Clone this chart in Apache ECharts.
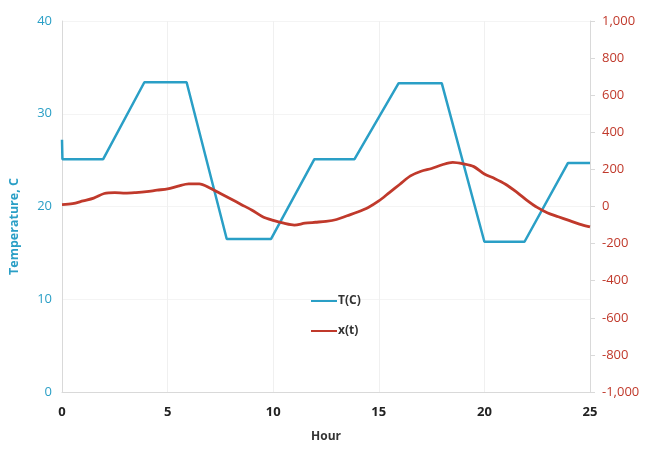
<!DOCTYPE html>
<html><head><meta charset="utf-8">
<script src="https://cdn.jsdelivr.net/npm/echarts@6/dist/echarts.min.js"></script>
<style>html,body{margin:0;padding:0;background:#fff}#c{width:649px;height:455px}</style>
</head><body><div id="c"></div>
<script>
const tHours = [0,0.02,1.95,3.9,5.9,7.8,9.9,11.95,13.85,15.94,17.98,20.0,21.9,23.96,25];
const tValues = [27.2,25.1,25.1,33.4,33.4,16.5,16.5,25.1,25.1,33.3,33.3,16.2,16.2,24.7,24.7];
const xHours = [0,0.5,1,1.5,2,2.5,3,3.5,4,4.5,5,5.5,6,6.5,7,7.5,8,8.5,9,9.5,10,10.5,11,11.5,12,12.5,13,13.5,14,14.5,15,15.5,16,16.5,17,17.5,18,18.5,19,19.5,20,20.5,21,21.5,22,22.5,23,23.5,24,24.5,25];
const xValues = [10,15,30,45,70,75,72,75,80,88,95,110,122,122,100,70,40,10,-20,-55,-75,-90,-100,-90,-85,-80,-70,-50,-30,-5,30,75,120,165,190,205,225,238,230,215,175,150,120,80,35,-5,-35,-55,-75,-95,-110];
const seriesNames = ['T(C)','x(t)'];
const xAxisName = 'Hour';
const leftAxisName = 'Temperature, C';

const teal = '#2a9fc6', red = '#c0392b';
const chart = echarts.init(document.getElementById('c'));
chart.setOption({
  animation:false,
  grid:{left:61,right:59,top:21,bottom:63},
  legend:{orient:'vertical',left:306,top:290,itemWidth:26,itemHeight:2,itemGap:18,
    icon:'rect',textStyle:{fontSize:12,fontWeight:'bold',color:'#333',fontFamily:'Open Sans',padding:[0,0,0,-4]},
    data:seriesNames},
  xAxis:{type:'value',min:0,max:25,interval:5,name:xAxisName,nameLocation:'middle',nameGap:39,
    nameTextStyle:{fontSize:12,fontWeight:'bold',color:'#333',fontFamily:'Open Sans'},
    axisLine:{show:true,lineStyle:{color:'#d9d9d9'}},axisTick:{show:false},
    axisLabel:{fontSize:13,fontWeight:'bold',color:'#222',margin:14,fontFamily:'Open Sans'},
    splitLine:{show:true,lineStyle:{color:'#f0f0f0'}}},
  yAxis:[
    {type:'value',min:0,max:40,interval:10,name:leftAxisName,nameLocation:'middle',nameGap:41,
     nameTextStyle:{fontSize:12.5,fontWeight:'bold',color:teal,fontFamily:'Open Sans',padding:[0,40,0,0]},
     axisLine:{show:true,lineStyle:{color:'#d9d9d9'}},axisTick:{show:false},
     axisLabel:{fontSize:13,color:teal,margin:10,fontFamily:'Open Sans'},
     splitLine:{show:true,lineStyle:{color:'#f4f4f4'}}},
    {type:'value',min:-1000,max:1000,interval:200,position:'right',
     axisLine:{show:true,lineStyle:{color:'#d9d9d9'}},axisTick:{show:true,length:5,lineStyle:{color:'#d9d9d9'}},
     axisLabel:{fontSize:13,color:red,margin:12,fontFamily:'Open Sans',
       formatter:v=>v.toLocaleString('en-US')},
     splitLine:{show:false}}
  ],
  series:[
    {name:seriesNames[0],type:'line',yAxisIndex:0,showSymbol:false,
     data:tHours.map((h,i)=>[h,tValues[i]]),lineStyle:{color:teal,width:2.5},itemStyle:{color:teal}},
    {name:seriesNames[1],type:'line',yAxisIndex:1,showSymbol:false,smooth:0.3,
     data:xHours.map((h,i)=>[h,xValues[i]]),lineStyle:{color:red,width:2.8},itemStyle:{color:red}}
  ]
});
</script></body></html>
